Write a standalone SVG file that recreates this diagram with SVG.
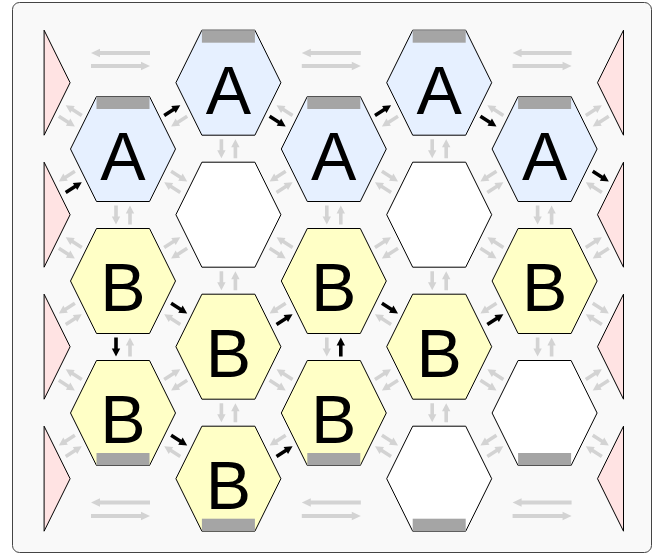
<svg xmlns="http://www.w3.org/2000/svg" xmlns:xlink="http://www.w3.org/1999/xlink" width="654" height="555" viewBox="0 0 654 555">
<style>
.bg{fill:#f9f9f9;stroke:#444;stroke-width:1}
.hA{fill:#e6f0ff;stroke:#000;stroke-width:1}
.hB{fill:#ffffc6;stroke:#000;stroke-width:1}
.hW{fill:#ffffff;stroke:#000;stroke-width:1}
.tri{fill:#ffe3e3;stroke:#000;stroke-width:1}
.bar{fill:#a5a5a5}
.t{font-family:"Liberation Sans",Arial,sans-serif;font-size:68px;text-anchor:middle;fill:#000}
.g{fill:#d3d3d3}
.k{fill:#000}
</style>
<defs>
<path id="hex" d="M-52.5,0 L-26.5,-52.5 L26.5,-52.5 L52.5,0 L26.5,52.5 L-26.5,52.5 Z"/>
<path id="s" d="M-9.5,-1.8 H1.5 V-4.2 L9.5,0 L1.5,4.2 V1.8 H-9.5 Z"/>
<path id="l" d="M-29.5,-1.9 H20.5 V-4.3 L29.5,0 L20.5,4.3 V1.9 H-29.5 Z"/>
</defs>
<rect class="bg" x="12.5" y="2.5" width="639" height="550" rx="7"/>
<g id="borders">
<polygon id="tl1" class="tri" points="44.1,30.2 70.1,82.7 44.1,135.2"/>
<polygon id="tl2" class="tri" points="44.1,162.2 70.1,214.7 44.1,267.2"/>
<polygon id="tl3" class="tri" points="44.1,294.2 70.1,346.7 44.1,399.2"/>
<polygon id="tl4" class="tri" points="44.1,426.2 70.1,478.7 44.1,531.2"/>
<polygon id="tr1" class="tri" points="623.5,30.2 597.5,82.7 623.5,135.2"/>
<polygon id="tr2" class="tri" points="623.5,162.2 597.5,214.7 623.5,267.2"/>
<polygon id="tr3" class="tri" points="623.5,294.2 597.5,346.7 623.5,399.2"/>
<polygon id="tr4" class="tri" points="623.5,426.2 597.5,478.7 623.5,531.2"/>
</g>
<g id="n11"><use href="#hex" x="123" y="149" class="hA"/><rect class="bar" x="96.5" y="96.5" width="53" height="12.5"/><text class="t" x="123" y="180">A</text></g>
<g id="n12"><use href="#hex" x="123" y="281" class="hB"/><text class="t" x="123" y="311">B</text></g>
<g id="n13"><use href="#hex" x="123" y="413" class="hB"/><rect class="bar" x="96.5" y="453" width="53" height="12.5"/><text class="t" x="123" y="443">B</text></g>
<g id="n21"><use href="#hex" x="228.4" y="82.7" class="hA"/><rect class="bar" x="201.9" y="30.2" width="53" height="12.5"/><text class="t" x="228.4" y="113.7">A</text></g>
<g id="n22"><use href="#hex" x="228.4" y="214.7" class="hW"/></g>
<g id="n23"><use href="#hex" x="228.4" y="346.7" class="hB"/><text class="t" x="228.4" y="376.7">B</text></g>
<g id="n24"><use href="#hex" x="228.4" y="478.7" class="hB"/><rect class="bar" x="201.9" y="518.7" width="53" height="12.5"/><text class="t" x="228.4" y="508.7">B</text></g>
<g id="n31"><use href="#hex" x="333.8" y="149" class="hA"/><rect class="bar" x="307.3" y="96.5" width="53" height="12.5"/><text class="t" x="333.8" y="180">A</text></g>
<g id="n32"><use href="#hex" x="333.8" y="281" class="hB"/><text class="t" x="333.8" y="311">B</text></g>
<g id="n33"><use href="#hex" x="333.8" y="413" class="hB"/><rect class="bar" x="307.3" y="453" width="53" height="12.5"/><text class="t" x="333.8" y="443">B</text></g>
<g id="n41"><use href="#hex" x="439.2" y="82.7" class="hA"/><rect class="bar" x="412.7" y="30.2" width="53" height="12.5"/><text class="t" x="439.2" y="113.7">A</text></g>
<g id="n42"><use href="#hex" x="439.2" y="214.7" class="hW"/></g>
<g id="n43"><use href="#hex" x="439.2" y="346.7" class="hB"/><text class="t" x="439.2" y="376.7">B</text></g>
<g id="n44"><use href="#hex" x="439.2" y="478.7" class="hW"/><rect class="bar" x="412.7" y="518.7" width="53" height="12.5"/></g>
<g id="n51"><use href="#hex" x="544.6" y="149" class="hA"/><rect class="bar" x="518.1" y="96.5" width="53" height="12.5"/><text class="t" x="544.6" y="180">A</text></g>
<g id="n52"><use href="#hex" x="544.6" y="281" class="hB"/><text class="t" x="544.6" y="311">B</text></g>
<g id="n53"><use href="#hex" x="544.6" y="413" class="hW"/><rect class="bar" x="518.1" y="453" width="53" height="12.5"/></g>
<g id="connectors">
<use href="#s" class="g" transform="translate(66.84,121.35) rotate(32.17)"/>
<use href="#s" class="g" transform="translate(73.76,110.35) rotate(212.17)"/>
<use href="#s" class="k" transform="translate(73.76,187.35) rotate(-32.17)"/>
<use href="#s" class="g" transform="translate(66.84,176.35) rotate(147.83)"/>
<use href="#s" class="g" transform="translate(66.84,253.35) rotate(32.17)"/>
<use href="#s" class="g" transform="translate(73.76,242.35) rotate(212.17)"/>
<use href="#s" class="g" transform="translate(73.76,319.35) rotate(-32.17)"/>
<use href="#s" class="g" transform="translate(66.84,308.35) rotate(147.83)"/>
<use href="#s" class="g" transform="translate(66.84,385.35) rotate(32.17)"/>
<use href="#s" class="g" transform="translate(73.76,374.35) rotate(212.17)"/>
<use href="#s" class="g" transform="translate(73.76,451.35) rotate(-32.17)"/>
<use href="#s" class="g" transform="translate(66.84,440.35) rotate(147.83)"/>

<use href="#s" class="k" transform="translate(172.24,110.35) rotate(-32.17)"/>
<use href="#s" class="g" transform="translate(179.16,121.35) rotate(147.83)"/>
<use href="#s" class="g" transform="translate(179.16,176.35) rotate(32.17)"/>
<use href="#s" class="g" transform="translate(172.24,187.35) rotate(212.17)"/>
<use href="#s" class="g" transform="translate(172.24,242.35) rotate(-32.17)"/>
<use href="#s" class="g" transform="translate(179.16,253.35) rotate(147.83)"/>
<use href="#s" class="k" transform="translate(179.16,308.35) rotate(32.17)"/>
<use href="#s" class="g" transform="translate(172.24,319.35) rotate(212.17)"/>
<use href="#s" class="g" transform="translate(172.24,374.35) rotate(-32.17)"/>
<use href="#s" class="g" transform="translate(179.16,385.35) rotate(147.83)"/>
<use href="#s" class="k" transform="translate(179.16,440.35) rotate(32.17)"/>
<use href="#s" class="g" transform="translate(172.24,451.35) rotate(212.17)"/>

<use href="#s" class="k" transform="translate(277.64,121.35) rotate(32.17)"/>
<use href="#s" class="g" transform="translate(284.56,110.35) rotate(212.17)"/>
<use href="#s" class="g" transform="translate(284.56,187.35) rotate(-32.17)"/>
<use href="#s" class="g" transform="translate(277.64,176.35) rotate(147.83)"/>
<use href="#s" class="g" transform="translate(277.64,253.35) rotate(32.17)"/>
<use href="#s" class="g" transform="translate(284.56,242.35) rotate(212.17)"/>
<use href="#s" class="k" transform="translate(284.56,319.35) rotate(-32.17)"/>
<use href="#s" class="g" transform="translate(277.64,308.35) rotate(147.83)"/>
<use href="#s" class="g" transform="translate(277.64,385.35) rotate(32.17)"/>
<use href="#s" class="g" transform="translate(284.56,374.35) rotate(212.17)"/>
<use href="#s" class="k" transform="translate(284.56,451.35) rotate(-32.17)"/>
<use href="#s" class="g" transform="translate(277.64,440.35) rotate(147.83)"/>

<use href="#s" class="k" transform="translate(383.04,110.35) rotate(-32.17)"/>
<use href="#s" class="g" transform="translate(389.96,121.35) rotate(147.83)"/>
<use href="#s" class="g" transform="translate(389.96,176.35) rotate(32.17)"/>
<use href="#s" class="g" transform="translate(383.04,187.35) rotate(212.17)"/>
<use href="#s" class="g" transform="translate(383.04,242.35) rotate(-32.17)"/>
<use href="#s" class="g" transform="translate(389.96,253.35) rotate(147.83)"/>
<use href="#s" class="k" transform="translate(389.96,308.35) rotate(32.17)"/>
<use href="#s" class="g" transform="translate(383.04,319.35) rotate(212.17)"/>
<use href="#s" class="g" transform="translate(383.04,374.35) rotate(-32.17)"/>
<use href="#s" class="g" transform="translate(389.96,385.35) rotate(147.83)"/>
<use href="#s" class="g" transform="translate(389.96,440.35) rotate(32.17)"/>
<use href="#s" class="g" transform="translate(383.04,451.35) rotate(212.17)"/>

<use href="#s" class="k" transform="translate(488.44,121.35) rotate(32.17)"/>
<use href="#s" class="g" transform="translate(495.36,110.35) rotate(212.17)"/>
<use href="#s" class="g" transform="translate(495.36,187.35) rotate(-32.17)"/>
<use href="#s" class="g" transform="translate(488.44,176.35) rotate(147.83)"/>
<use href="#s" class="g" transform="translate(488.44,253.35) rotate(32.17)"/>
<use href="#s" class="g" transform="translate(495.36,242.35) rotate(212.17)"/>
<use href="#s" class="k" transform="translate(495.36,319.35) rotate(-32.17)"/>
<use href="#s" class="g" transform="translate(488.44,308.35) rotate(147.83)"/>
<use href="#s" class="g" transform="translate(488.44,385.35) rotate(32.17)"/>
<use href="#s" class="g" transform="translate(495.36,374.35) rotate(212.17)"/>
<use href="#s" class="g" transform="translate(495.36,451.35) rotate(-32.17)"/>
<use href="#s" class="g" transform="translate(488.44,440.35) rotate(147.83)"/>

<use href="#s" class="g" transform="translate(593.84,110.35) rotate(-32.17)"/>
<use href="#s" class="g" transform="translate(600.76,121.35) rotate(147.83)"/>
<use href="#s" class="k" transform="translate(600.76,176.35) rotate(32.17)"/>
<use href="#s" class="g" transform="translate(593.84,187.35) rotate(212.17)"/>
<use href="#s" class="g" transform="translate(593.84,242.35) rotate(-32.17)"/>
<use href="#s" class="g" transform="translate(600.76,253.35) rotate(147.83)"/>
<use href="#s" class="g" transform="translate(600.76,308.35) rotate(32.17)"/>
<use href="#s" class="g" transform="translate(593.84,319.35) rotate(212.17)"/>
<use href="#s" class="g" transform="translate(593.84,374.35) rotate(-32.17)"/>
<use href="#s" class="g" transform="translate(600.76,385.35) rotate(147.83)"/>
<use href="#s" class="g" transform="translate(600.76,440.35) rotate(32.17)"/>
<use href="#s" class="g" transform="translate(593.84,451.35) rotate(212.17)"/>

<use href="#s" class="g" transform="translate(116,215) rotate(90)"/>
<use href="#s" class="g" transform="translate(130,215) rotate(-90)"/>
<use href="#s" class="k" transform="translate(116,347) rotate(90)"/>
<use href="#s" class="g" transform="translate(130,347) rotate(-90)"/>
<use href="#s" class="g" transform="translate(326.8,215) rotate(90)"/>
<use href="#s" class="g" transform="translate(340.8,215) rotate(-90)"/>
<use href="#s" class="g" transform="translate(326.8,347) rotate(90)"/>
<use href="#s" class="k" transform="translate(340.8,347) rotate(-90)"/>
<use href="#s" class="g" transform="translate(537.6,215) rotate(90)"/>
<use href="#s" class="g" transform="translate(551.6,215) rotate(-90)"/>
<use href="#s" class="g" transform="translate(537.6,347) rotate(90)"/>
<use href="#s" class="g" transform="translate(551.6,347) rotate(-90)"/>
<use href="#s" class="g" transform="translate(221.4,148.7) rotate(90)"/>
<use href="#s" class="g" transform="translate(235.4,148.7) rotate(-90)"/>
<use href="#s" class="g" transform="translate(221.4,280.7) rotate(90)"/>
<use href="#s" class="g" transform="translate(235.4,280.7) rotate(-90)"/>
<use href="#s" class="g" transform="translate(221.4,412.7) rotate(90)"/>
<use href="#s" class="g" transform="translate(235.4,412.7) rotate(-90)"/>
<use href="#s" class="g" transform="translate(432.2,148.7) rotate(90)"/>
<use href="#s" class="g" transform="translate(446.2,148.7) rotate(-90)"/>
<use href="#s" class="g" transform="translate(432.2,280.7) rotate(90)"/>
<use href="#s" class="g" transform="translate(446.2,280.7) rotate(-90)"/>
<use href="#s" class="g" transform="translate(432.2,412.7) rotate(90)"/>
<use href="#s" class="g" transform="translate(446.2,412.7) rotate(-90)"/>

<use href="#l" class="g" transform="translate(120.5,53) rotate(180)"/>
<use href="#l" class="g" transform="translate(120.5,66)"/>
<use href="#l" class="g" transform="translate(331.3,53) rotate(180)"/>
<use href="#l" class="g" transform="translate(331.3,66)"/>
<use href="#l" class="g" transform="translate(542.1,53) rotate(180)"/>
<use href="#l" class="g" transform="translate(542.1,66)"/>
<use href="#l" class="g" transform="translate(120.5,502.5) rotate(180)"/>
<use href="#l" class="g" transform="translate(120.5,516)"/>
<use href="#l" class="g" transform="translate(331.3,502.5) rotate(180)"/>
<use href="#l" class="g" transform="translate(331.3,516)"/>
<use href="#l" class="g" transform="translate(542.1,502.5) rotate(180)"/>
<use href="#l" class="g" transform="translate(542.1,516)"/>
</g>
</svg>
